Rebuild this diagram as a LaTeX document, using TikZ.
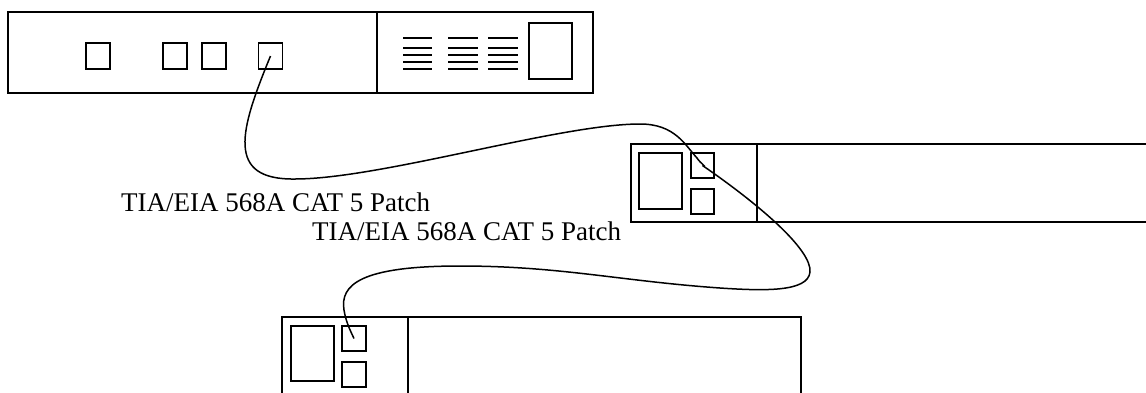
\documentclass[tikz,border=0pt]{standalone}
\usepackage{fontspec}
\setmainfont{Liberation Serif}
\begin{document}
\begin{tikzpicture}[x=1pt,y=-1pt,
  box/.style={draw,line width=1.4pt},
  port/.style={draw,line width=1.4pt,rectangle,inner sep=0pt,minimum width=24pt,minimum height=25pt},
  bigport/.style={draw,line width=1.4pt,rectangle,inner sep=0pt,minimum width=43pt,minimum height=56pt},
  frame/.style={draw,line width=1.4pt,rectangle,inner sep=0pt},
  cable/.style={line width=1.5pt},
  bar/.style={line width=1.3pt},
  lbl/.style={anchor=base west,inner sep=0pt,font=\fontsize{27}{31}\selectfont}]
\useasboundingbox (0,0) rectangle (1146,392);

% top device
\node[frame,minimum width=585pt,minimum height=81pt] (sw1) at (300.5,52.5) {};
\draw[box] (377,12) -- (377,93);
\node[port,minimum height=26pt] (p1) at (98,56) {};
\node[port,minimum height=26pt] (p2) at (175,56) {};
\node[port,minimum height=26pt] (p3) at (214,56) {};
\node[port,minimum height=26pt] (p4) at (270.5,56) {};
\foreach \xa/\xb in {403/432,448/478,488/518}{
  \foreach \yy in {38,48,55,62,69}{
    \draw[bar] (\xa,\yy) -- (\xb,\yy);
  }
}
\node[bigport] (sw1big) at (550.5,51) {};

% right device
\draw[box] (1150,144) -- (631,144) -- (631,222) -- (1150,222);
\draw[box] (757,144) -- (757,222);
\node[bigport] (r0) at (660.5,181) {};
\node[port,minimum width=23pt] (r1) at (702.5,165.5) {};
\node[port,minimum width=23pt] (r2) at (702.5,201.5) {};

% bottom device
\draw[box] (282,396) -- (282,317) -- (801,317) -- (801,396);
\draw[box] (408,317) -- (408,396);
\node[bigport,minimum height=55pt] (b0) at (312.5,353.5) {};
\node[port] (b1) at (354,338.5) {};
\node[port] (b2) at (354,374.5) {};

% cables
\draw[cable] (p4.center) .. controls (240,130) and (225,180) .. (295,179)
  .. controls (380,179) and (560,124) .. (640,124)
  .. controls (675,124) and (685,145) .. (697,158)
  .. controls (701,164) and (706,166) .. (r1.center);
\draw[cable] (r1.center) .. controls (760,205) and (812,250) .. (810,272)
  .. controls (808,292) and (765,291) .. (720,288)
  .. controls (620,281) and (560,266) .. (460,266)
  .. controls (360,266) and (340,285) .. (344,310)
  .. controls (346,322) and (350,330) .. (b1.center);

% labels
\node[lbl] (t1) at (121,211) {TIA/EIA 568A CAT 5 Patch};
\node[lbl] (t2) at (312,240) {TIA/EIA 568A CAT 5 Patch};
\end{tikzpicture}
\end{document}
